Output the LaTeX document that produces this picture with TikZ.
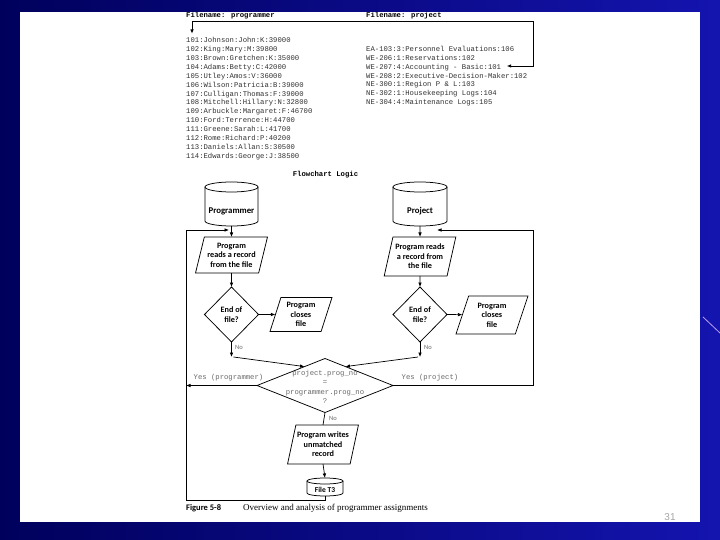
\documentclass[tikz,border=0pt]{standalone}
\usepackage{fontspec}
\setmainfont{Liberation Serif}
\newfontfamily\recfont{Liberation Mono}
\newfontfamily\flowfont{Carlito}
\newfontfamily\numfont{Liberation Sans}
\usetikzlibrary{shapes.geometric,arrows.meta,calc}
\definecolor{bgdark}{RGB}{0,0,92}
\definecolor{bglight}{RGB}{20,20,175}
\definecolor{recgray}{RGB}{50,50,50}
\definecolor{softgray}{RGB}{105,105,105}
\definecolor{streak}{RGB}{190,160,240}
\newcommand\drawcyl[3]{%
  \draw[shapeline] ([yshift=-#2]#1.north west) -- ([yshift=#2]#1.south west)
     arc[start angle=180, end angle=360, x radius=#3, y radius=#2]
     -- ([yshift=-#2]#1.north east);
  \draw[shapeline] ([yshift=-#2]#1.north) ellipse [x radius=#3, y radius=#2];
}
\begin{document}
\begin{tikzpicture}[x=1pt,y=-1pt,
  rec/.style={font=\recfont\fontsize{7.25}{8}\selectfont, text=recgray, inner sep=0pt, anchor=base west},
  hdr/.style={font=\recfont\bfseries\fontsize{7.25}{8}\selectfont, text=black, inner sep=0pt, anchor=base west},
  shapeline/.style={draw=black, line width=0.75pt},
  lbl/.style={font=\flowfont\bfseries\fontsize{8.2}{9.4}\selectfont, align=center, text=black},
  para/.style={trapezium, trapezium left angle=72, trapezium right angle=108, trapezium stretches=true, shapeline, inner sep=0pt, outer sep=0pt, lbl},
  dia/.style={diamond, shapeline, inner sep=0pt, outer sep=0pt, lbl},
  cylbox/.style={rectangle, draw=none, inner sep=0pt, outer sep=0pt},
  arr/.style={-{Latex[length=4.5pt,width=3.6pt]}, line width=0.7pt},
  arrtwo/.style={{Latex[length=4pt,width=3.4pt]}-{Latex[length=4pt,width=3.4pt]}, line width=0.6pt},
  conn/.style={line width=0.7pt},
  nolbl/.style={font=\flowfont\fontsize{6.5}{7}\selectfont, text=softgray, inner sep=0pt, anchor=west},
  yeslbl/.style={font=\recfont\fontsize{7.25}{8}\selectfont, text=softgray, inner sep=0pt},
]
\useasboundingbox (0,0) rectangle (720,540);
\shade[left color=bgdark, right color=bglight] (0,0) rectangle (720,540);
\draw[streak, line width=0.8pt] (703,317) -- (720,333);
\fill[white] (20,12) rectangle (700,522);

% headers
\node[hdr] (fnprog) at (186,17.5) {Filename: programmer};
\node[hdr] (fnproj) at (366,17.5) {Filename: project};

% programmer records
\foreach \t [count=\i from 0] in {101:Johnson:John:K:39000, 102:King:Mary:M:39800, 103:Brown:Gretchen:K:35000, 104:Adams:Betty:C:42000, 105:Utley:Amos:V:36000, 106:Wilson:Patricia:B:39000, 107:Culligan:Thomas:F:39000, 108:Mitchell:Hillary:N:32800, 109:Arbuckle:Margaret:F:46700, 110:Ford:Terrence:H:44700, 111:Greene:Sarah:L:41700, 112:Rome:Richard:P:40200, 113:Daniels:Allan:S:30500, 114:Edwards:George:J:38500}
  \node[rec] (p\i) at (186,{42.5+8.92*\i}) {\t};

% project records
\foreach \t [count=\i from 0] in {EA-103:3:Personnel Evaluations:106, WE-206:1:Reservations:102, WE-207:4:Accounting - Basic:101, WE-208:2:Executive-Decision-Maker:102, NE-300:1:Region P \& L:103, NE-302:1:Housekeeping Logs:104, NE-304:4:Maintenance Logs:105}
  \node[rec] (q\i) at (366,{52+8.75*\i}) {\t};

% top connector
\coordinate (topA) at (192,33.5);
\coordinate (topB) at (192,21);
\coordinate (topC) at (533,21);
\coordinate (topD) at (533,66);
\coordinate (topE) at (507,66);
\draw[arrtwo] (topA) -- (topB) -- (topC) -- (topD) -- (topE);

\node[hdr, anchor=base] (fclogic) at (325.5,176.5) {Flowchart Logic};

% cylinders
\node[cylbox, minimum width=53pt, minimum height=44pt] (cylL) at (231.5,204) {};
\drawcyl{cylL}{5pt}{26.5pt}
\node[lbl, font=\flowfont\bfseries\fontsize{8.8}{10}\selectfont] (cylLt) at (231.5,211) {Programmer};
\node[cylbox, minimum width=54pt, minimum height=44pt] (cylR) at (420,204) {};
\drawcyl{cylR}{5pt}{27pt}
\node[lbl, font=\flowfont\bfseries\fontsize{8.8}{10}\selectfont] (cylRt) at (420,211) {Project};

% left chain
\node[para, minimum width=72pt, minimum height=36pt] (readL) at (231.5,255) {Program\\reads a record\\from the file};
\node[dia, minimum width=54pt, minimum height=55pt] (endL) at (231.5,314.5) {End of\\file?};
\node[para, minimum width=62pt, minimum height=34pt] (closeL) at (301,314.5) {Program\\closes\\file};

% right chain
\node[para, minimum width=72pt, minimum height=39pt] (readR) at (420,256.5) {Program reads\\a record from\\the file};
\node[dia, minimum width=54pt, minimum height=55pt] (endR) at (420,314.5) {End of\\file?};
\node[para, minimum width=72pt, minimum height=38pt] (closeR) at (492,315) {Program\\closes\\file};

% compare diamond
\node[dia, minimum width=136pt, minimum height=54pt] (cmp) at (325,385.5) {};
\node[font=\recfont\fontsize{7.25}{9.3}\selectfont, text=softgray, align=center, inner sep=0pt] (cmpt) at (325,387) {project.prog\_no\\=\\programmer.prog\_no\\?};

% write + file T3
\node[para, minimum width=71pt, minimum height=39pt] (writeN) at (323,444.5) {Program writes\\unmatched\\record};
\node[cylbox, minimum width=36pt, minimum height=18pt] (t3) at (325,487) {};
\drawcyl{t3}{3pt}{18pt}
\node[lbl, font=\flowfont\bfseries\fontsize{7.5}{9}\selectfont] (t3t) at (325,489.5) {File T3};

% connectors left
\draw[arr] (cylL.south) -- (readL.north);
\draw[arr] (readL.south) -- (endL.north);
\draw[arr] (endL.east) -- (closeL);
\coordinate (noL) at (231.5,357);
\draw[arr] (endL.south) -- (noL);
\node[nolbl] (noLt) at (235,347) {No};
\draw[arr] ([xshift=2pt]noL) -- ($(cmp.west)!0.7!(cmp.north)$);

% connectors right
\draw[arr] (cylR.south) -- (readR.north);
\draw[arr] (readR.south) -- (endR.north);
\draw[arr] (endR.east) -- (closeR);
\coordinate (noR) at (420,357);
\draw[arr] (endR.south) -- (noR);
\node[nolbl] (noRt) at (424,347) {No};
\draw[arr] ([xshift=-2pt]noR) -- ($(cmp.east)!0.7!(cmp.north)$);

% bottom
\draw[conn] (cmp.south) -- (writeN.north);
\node[nolbl] (noBt) at (329,418) {No};
\draw[arr] (writeN.south) -- (t3.north);

% loops
\coordinate (lpBM) at (325,500);
\coordinate (lpBL) at (186,500);
\coordinate (lpTL) at (186,230);
\coordinate (entL) at (229,230);
\draw[arr] (t3.south) -- (lpBM) -- (lpBL) -- (lpTL) -- (entL);
\coordinate (yesL) at (186,385.5);
\draw[arr] (cmp.west) -- (yesL);
\node[yeslbl] (yesLt) at (228.5,378) {Yes (programmer)};

\coordinate (lpBR) at (533,385.5);
\coordinate (lpTR) at (533,230);
\coordinate (entR) at (437,230);
\draw[arr] (cmp.east) -- (lpBR) -- (lpTR) -- (entR);
\node[yeslbl] (yesRt) at (430,378) {Yes (project)};

% caption
\node[font=\flowfont\bfseries\fontsize{8.5}{10}\selectfont, inner sep=0pt, anchor=base west] (figno) at (186,510) {Figure 5-8};
\node[font=\fontsize{9}{10}\selectfont, inner sep=0pt, anchor=base west] (figcap) at (243,510) {Overview and analysis of programmer assignments};

% page number
\node[font=\numfont\fontsize{10}{12}\selectfont, text=black!35, inner sep=0pt] (pgno) at (670,517) {31};
\end{tikzpicture}
\end{document}
